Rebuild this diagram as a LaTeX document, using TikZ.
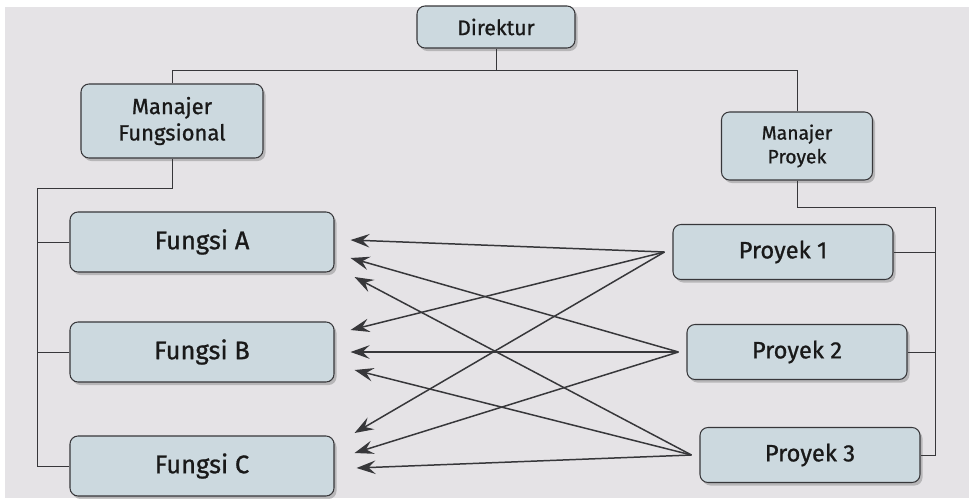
\documentclass[tikz,border=0pt]{standalone}
\usepackage{fontspec}
\setmainfont{Fira Sans}[FakeBold=0.9]
\usepackage{tikz}
\usetikzlibrary{calc,arrows.meta,positioning,shadows}
\definecolor{paper}{RGB}{229,227,230}
\definecolor{boxfill}{RGB}{204,217,223}
\definecolor{ink}{RGB}{55,55,58}
\tikzset{
    unit/.style={
    rectangle,rounded corners=1.6mm,draw=ink,fill=boxfill,line width=0.6pt,
    text=black!90,align=center,inner sep=0pt,
    drop shadow={shadow xshift=0.5mm,shadow yshift=-0.6mm,opacity=0.4,fill=black!55}
    },
    fungsi/.style={
    unit,minimum width=52.8mm,minimum height=12mm,font=\fontsize{14.5}{16}\selectfont
    },
    proyek/.style={
    unit,minimum width=44mm,minimum height=11mm,font=\fontsize{13.5}{15}\selectfont
    },
    tree/.style={
    draw=ink,line width=0.55pt
    },
    arr/.style={
    draw=ink,line width=0.85pt,-{Stealth[length=3.8mm,width=2.7mm,inset=1.4mm]}
    },
}
\begin{document}
\begin{tikzpicture}[x=0.2mm,y=-0.2mm]
  \fill[paper] (0,0) rectangle (969,498);
  \fill[white] (0,0) rectangle (969,7);
  \fill[white] (0,0) rectangle (5,498);
  \useasboundingbox (0,0) rectangle (969,498);

  % kepala
  \node[unit,minimum width=31.6mm,minimum height=8.4mm,font=\fontsize{12}{14}\selectfont] (dir) at (496,27) {Direktur};
  \node[unit,minimum width=36.4mm,minimum height=14.8mm,font=\fontsize{12.5}{15}\selectfont] (mf) at (172,121) {Manajer\\Fungsional};
  \node[unit,minimum width=30.2mm,minimum height=13.6mm,font=\fontsize{11}{13.5}\selectfont] (mp) at (797,146) {Manajer\\Proyek};

  % fungsi dan proyek
  \node[fungsi] (fa) at (202,242) {Fungsi A};
  \node[fungsi] (fb) at (202,352) {Fungsi B};
  \node[fungsi] (fc) at (202,466) {Fungsi C};
  \node[proyek] (p1) at (783,252) {Proyek 1};
  \node[proyek] (p2) at (797,352) {Proyek 2};
  \node[proyek] (p3) at (810,455) {Proyek 3};

  % garis struktur
  \coordinate (bl) at (172,70);
  \coordinate (br) at (797,70);
  \coordinate (lt) at (37,188);
  \coordinate (rt) at (935,207);
  \path[tree] (dir.south) -- (dir.south |- bl);
  \path[tree] (mf.north) -- (bl) -- (br) -- (mp.north);
  \path[tree] (mf.south) |- (lt) |- (fc.west);
  \path[tree] (fa.west) -- (fa.west -| lt);
  \path[tree] (fb.west) -- (fb.west -| lt);
  \path[tree] (mp.south) |- (rt) |- (p3.east);
  \path[tree] (p1.east) -- (p1.east -| rt);
  \path[tree] (p2.east) -- (p2.east -| rt);

  % titik panah
  \coordinate (s1) at ($(p1.west)+(-8,0)$);
  \coordinate (s2) at ($(p2.west)+(-8,0)$);
  \coordinate (s3) at ($(p3.west)+(-8,0)$);
  \coordinate (a1) at ($(fa.east)+(16,-2)$);
  \coordinate (a2) at ($(fa.east)+(16,16)$);
  \coordinate (a3) at ($(fa.east)+(20,35)$);
  \coordinate (b1) at ($(fb.east)+(16,-22)$);
  \coordinate (b2) at ($(fb.east)+(16,0)$);
  \coordinate (b3) at ($(fb.east)+(20,18)$);
  \coordinate (c1) at ($(fc.east)+(20,-33)$);
  \coordinate (c2) at ($(fc.east)+(20,-13)$);
  \coordinate (c3) at ($(fc.east)+(22,2)$);

  \path[every edge/.style={arr}]
    (s1) edge (a1) edge (b1) edge (c1)
    (s2) edge (a2) edge (b2) edge (c2)
    (s3) edge (a3) edge (b3) edge (c3);
\end{tikzpicture}
\end{document}
